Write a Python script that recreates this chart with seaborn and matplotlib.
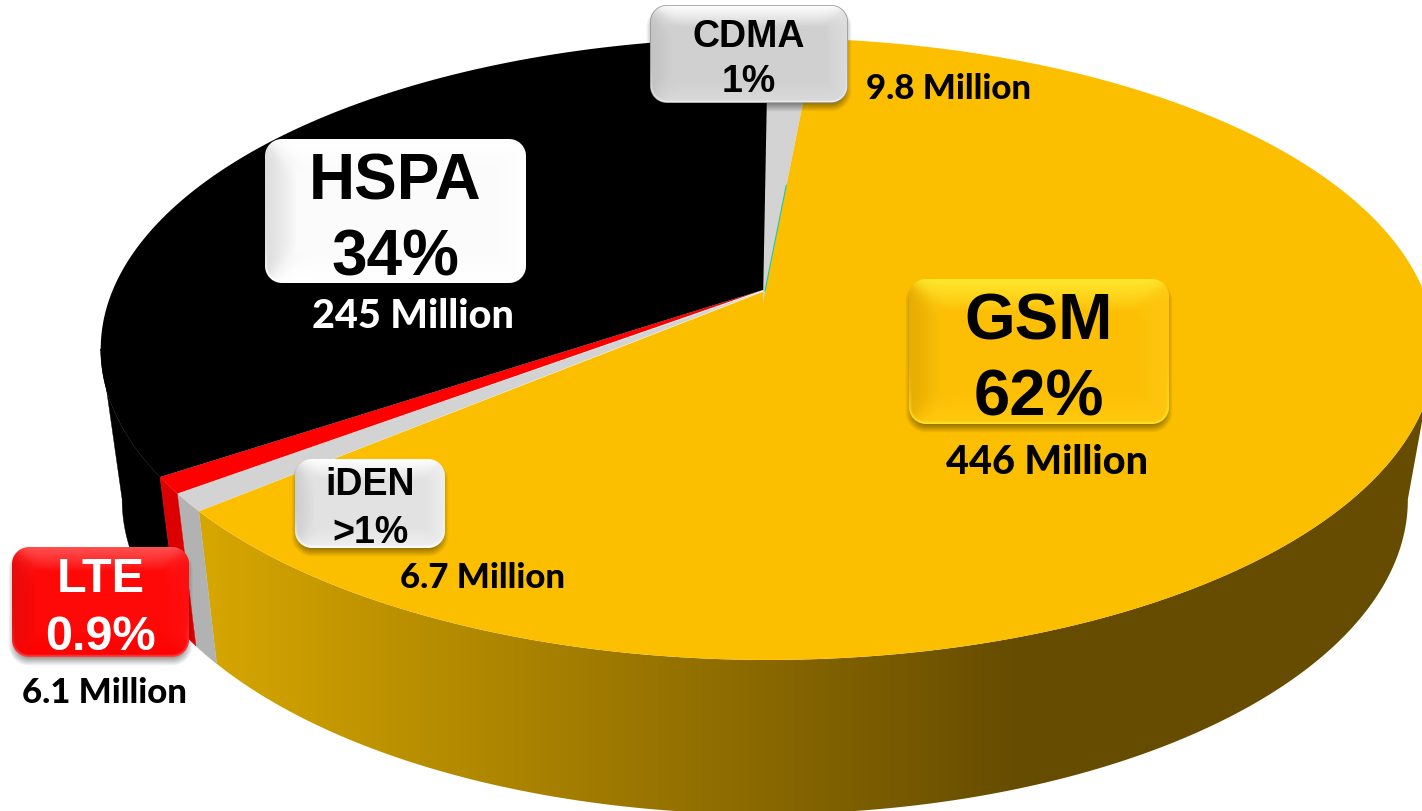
#!/usr/bin/env python3
"""3D style pie of subscribers per mobile technology"""

import numpy as np
import seaborn as sns
import matplotlib.pyplot as plt
from matplotlib.colors import to_rgb
from matplotlib.patches import Polygon

# data, clockwise from the top of the pie
techs = ['CDMA', 'GSM', 'iDEN', 'LTE', 'HSPA']
millions = [9.8, 446, 6.7, 6.1, 245]
shares = ['1%', '62%', '>1%', '0.9%', '34%']
million_labels = ['9.8 Million', '446 Million', '6.7 Million', '6.1 Million', '245 Million']

top_colors = ['#D3D3D3', '#FCBF00', '#D3D3D3', '#FF0000', '#000000']
wall_colors = ['#B2B2B2', None, '#B2B2B2', '#DD0000', '#000000']

sns.set_theme(style='white')
plt.rcParams['font.family'] = ['Liberation Sans', 'DejaVu Sans']

# perspective of the two faces of the pie, in pixels
PERSP = 0.183
TOP_FACE = dict(x0=768, y0=292, a=656, b=300.6)
BOTTOM_FACE = dict(x0=765, y0=442, a=632, b=304)
APEX = {'CDMA': (763, 303), 'GSM': (765, 291), 'iDEN': (766, 290), 'LTE': (766, 289), 'HSPA': (766, 289)}
# disc angles where the wall leaves the outline of the pie
RIGHT_TANGENT = 100.5
LEFT_TANGENT = 259.5

# where the labels go: box (left, top, right, bottom), text rows, caption
BOXES = {
    'CDMA': dict(box=(650, 5, 848, 103), rows=(37, 82), size=27, capt=(949, 89), capt_size=25, color='black',
                 base='#D0D0D0', top='#FFFFFF', bottom='#DADADA', left='#C2C2C2', right='#DCDCDC', rim='#F4F4F4',
                 line='#8C8C8C'),
    'GSM': dict(box=(909, 279, 1169, 424), rows=(323, 399), size=47, capt=(1047, 462), capt_size=28.5, color='black',
                base='#FDBF06', top='#FFE72E', bottom='#FFC80E', left='#E6AC04', right='#FFC610', rim='#FFE52A',
                line=None),
    'iDEN': dict(box=(295, 459, 445, 548), rows=(485, 533), size=27, capt=(483, 578), capt_size=25, color='black',
                 base='#E2E2E2', top='#FFFFFF', bottom='#F0F0F0', left='#CDCDCD', right='#EDEDED', rim='#FFFFFF',
                 line=None),
    'LTE': dict(box=(12, 547, 189, 657), rows=(580, 637), size=35, capt=(104, 693), capt_size=25, color='white',
                base='#FE0808', top='#FF5050', bottom='#FF0000', left='#E80A0A', right='#FF1010', rim='#FF4040',
                line=None),
    'HSPA': dict(box=(265, 139, 526, 283), rows=(183, 258), size=46, capt=(413, 317), capt_size=28.5, color='black',
                 base='#FBFBFB', top='#FFFFFF', bottom='#FFFFFF', left='#DCDCDC', right='#FFFFFF', rim='#FFFFFF',
                 line=None),
}


def project(theta, face):
    """disc angle (deg clockwise from the back) to pixels"""
    u = np.sin(np.radians(theta))
    v = np.cos(np.radians(theta))
    w = 1 + PERSP * v
    return face['x0'] + face['a'] * u / w, face['y0'] - face['b'] * v / w


def wall_outline(t1, t2):
    angles = np.linspace(t1, t2, 200)
    tx, ty = project(angles, TOP_FACE)
    bx, by = project(angles[::-1], BOTTOM_FACE)
    return np.r_[tx, bx], np.r_[ty, by]


def glossy_box(ax, spec):
    x0, y0, x1, y1 = spec['box']
    m = 14
    r = 17
    xs = np.arange(x0 - m, x1 + m) + 0.5
    ys = np.arange(y0 - m, y1 + m) + 0.5
    X, Y = np.meshgrid(xs, ys)
    cx, cy = (x0 + x1) / 2, (y0 + y1) / 2
    hw, hh = (x1 - x0) / 2, (y1 - y0) / 2

    def sdf(px, py):
        qx = np.abs(px - cx) - hw + r
        qy = np.abs(py - cy) - hh + r
        return np.hypot(np.maximum(qx, 0), np.maximum(qy, 0)) + np.minimum(np.maximum(qx, qy), 0) - r

    # bevel with soft mitred corners
    d = np.stack([Y - y0, y1 - Y, X - x0, x1 - X])
    weights = np.exp(-d / 5.0)
    weights = weights / weights.sum(axis=0)
    edges = np.array([to_rgb(spec[k]) for k in ('top', 'bottom', 'left', 'right')])
    edge_rgb = np.tensordot(weights, edges, axes=([0], [0]))
    bevel = 0.22 * (y1 - y0)
    t = np.clip(1 - d.min(axis=0) / bevel, 0, 1)[..., None] ** 0.8
    base = np.array(to_rgb(spec['base']))
    rgb = base + t * (edge_rgb - base)

    # bright rim along the lower edge, fading out up the sides
    dist = sdf(X, Y)
    rim = np.clip((dist + 3) / 2, 0, 1) * np.clip((Y - cy) / hh, 0, 1) ** 2
    rim = rim[..., None]
    rgb = rgb * (1 - rim) + np.array(to_rgb(spec['rim'])) * rim
    if spec['line']:
        edge_line = np.clip(dist + 1.2, 0, 1)[..., None]
        rgb = rgb * (1 - edge_line) + np.array(to_rgb(spec['line'])) * edge_line
    box_alpha = np.clip(0.5 - dist, 0, 1)

    # soft shadow under the box
    shadow = 0.4 * np.clip(1 - (sdf(X, Y - 5) + 5) / 9, 0, 1)
    alpha = box_alpha + shadow * (1 - box_alpha)
    rgb = rgb * (box_alpha / np.maximum(alpha, 1e-6))[..., None]
    ax.imshow(np.dstack([rgb, alpha]), extent=(x0 - m, x1 + m, y1 + m, y0 - m),
              aspect='auto', interpolation='nearest', zorder=5)


def main():
    fig = plt.figure(figsize=(14.22, 8.11), dpi=100)
    ax = fig.add_axes([0, 0, 1, 1])

    bounds = np.cumsum([0] + millions) / np.sum(millions) * 360
    slices = {t: (bounds[i], bounds[i + 1]) for i, t in enumerate(techs)}

    # side walls first, the top face covers what is behind it
    ax.fill(*wall_outline(slices['HSPA'][0], LEFT_TANGENT), color=wall_colors[4], lw=0.3, zorder=1)
    for tech, wall in zip(techs, wall_colors):
        if tech in ('GSM', 'HSPA', 'CDMA'):
            continue
        ax.fill(*wall_outline(*slices[tech]), color=wall, lw=0.3, zorder=1.5)

    gsm_x, gsm_y = wall_outline(RIGHT_TANGENT, slices['GSM'][1])
    clip = Polygon(np.c_[gsm_x, gsm_y], closed=True, fc='none', ec='none', transform=ax.transData)
    ax.add_patch(clip)
    wall_cmap = sns.blend_palette(['#D6A600', '#664C00'], as_cmap=True)
    ramp = np.clip((np.arange(190, 1440) - 205) / 815, 0, 1)[None, :]
    img = ax.imshow(ramp, extent=(190, 1440, 830, 300), aspect='auto', cmap=wall_cmap,
                    vmin=0, vmax=1, zorder=1)
    img.set_clip_path(clip)

    # top face, gold first so the thin slices sit on it
    for tech in ['GSM', 'iDEN', 'LTE', 'HSPA', 'CDMA']:
        i = techs.index(tech)
        t1, t2 = slices[tech]
        ax_, ay_ = APEX[tech]
        tx, ty = project(np.linspace(t1, t2, 300), TOP_FACE)
        ax.fill(np.r_[ax_, tx], np.r_[ay_, ty], color=top_colors[i], lw=0, zorder=2)

    # hair line at the edge of the CDMA slice
    ex, ey = project(slices['CDMA'][1], TOP_FACE)
    sx, sy = APEX['GSM']
    ax.plot([sx, sx + 0.42 * (ex - sx)], [sy, sy + 0.42 * (ey - sy)], color='#1FC8A0', lw=0.8, zorder=3)

    for tech, share, caption in zip(techs, shares, million_labels):
        spec = BOXES[tech]
        glossy_box(ax, spec)
        cx = (spec['box'][0] + spec['box'][2]) / 2
        ax.text(cx, spec['rows'][0], tech, ha='center', va='center', fontsize=spec['size'],
                fontweight='bold', color=spec['color'], zorder=6)
        ax.text(cx, spec['rows'][1], share, ha='center', va='center', fontsize=spec['size'],
                fontweight='bold', color=spec['color'], zorder=6)
        ax.text(*spec['capt'], caption, ha='center', va='center', fontsize=spec['capt_size'], fontweight=900,
                family=['Lato', 'DejaVu Sans'], color='white' if tech == 'HSPA' else 'black', zorder=6)

    ax.set_xlim(0, 1422)
    ax.set_ylim(811, 0)
    ax.axis('off')
    fig.savefig('out.png', dpi=100, facecolor='white')


if __name__ == "__main__":
    main()
